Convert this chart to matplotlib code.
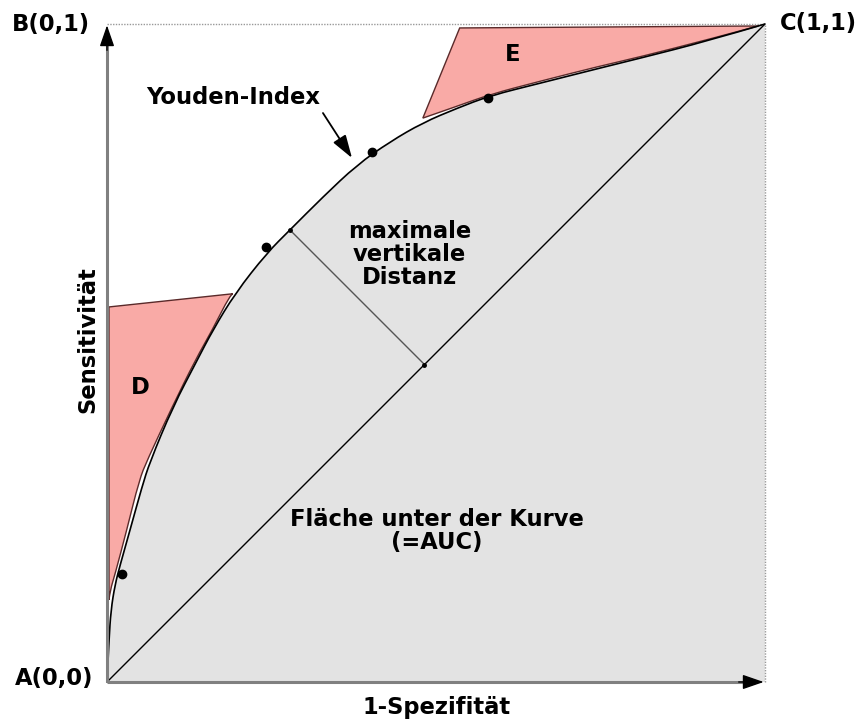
import numpy as np
import matplotlib.pyplot as plt
from matplotlib.path import Path
from matplotlib.patches import PathPatch

# ROC-Kurve (1-Spezifität, Sensitivität)
roc_x = [0, 0.003, 0.006, 0.012, 0.020, 0.035, 0.053, 0.065, 0.100, 0.137, 0.161, 0.195,
         0.243, 0.278, 0.328, 0.380, 0.430, 0.480, 0.532, 0.582, 0.658, 0.749, 0.810, 0.912, 1]
roc_y = [0, 0.064, 0.109, 0.147, 0.178, 0.231, 0.296, 0.334, 0.418, 0.489, 0.535, 0.591,
         0.652, 0.687, 0.737, 0.786, 0.821, 0.850, 0.872, 0.891, 0.910, 0.933, 0.948, 0.974, 1]
max_idx = 13  # Punkt mit maximalem Abstand zur Diagonale

# Messpunkte
pts_x = [0.023, 0.242, 0.403, 0.579]
pts_y = [0.164, 0.661, 0.805, 0.888]

# Fläche D (links oben an der Kurve)
d_corner = (0.003, 0.570)
d_x = [0.191, 0.187, 0.160, 0.134, 0.099, 0.061, 0.049, 0.030, 0.012, 0.005, 0.003]
d_y = [0.590, 0.588, 0.535, 0.489, 0.418, 0.337, 0.307, 0.231, 0.163, 0.140, 0.125]

# Fläche E (rechts oben an der Kurve)
e_corner = (0.536, 0.994)
e_x = [0.480, 0.532, 0.582, 0.658, 0.749, 0.810, 0.912, 0.990]
e_y = [0.857, 0.875, 0.893, 0.913, 0.936, 0.950, 0.976, 0.997]


def smooth(xs, ys):
    # quadratische Bezier-Segmente über die Stützpunkte
    verts, codes = [], []
    for i in range(1, len(xs) - 1):
        verts += [(xs[i], ys[i]), ((xs[i] + xs[i + 1]) / 2, (ys[i] + ys[i + 1]) / 2)]
        codes += [Path.CURVE3, Path.CURVE3]
    if verts:
        verts[-1] = (xs[-1], ys[-1])
    else:
        verts, codes = [(xs[-1], ys[-1])], [Path.LINETO]
    return verts, codes


fig = plt.figure(figsize=(8.62, 7.19), dpi=100)
ax = fig.add_axes([0, 0, 1, 1])
ax.set_xlim(-107 / 658, 755 / 658)
ax.set_ylim(-37 / 658, 682 / 658)
ax.axis('off')

cv, cc = smooth(roc_x, roc_y)
curve_verts = [(roc_x[0], roc_y[0])] + cv
curve_codes = [Path.MOVETO] + cc

# Fläche unter der Kurve
area = Path(curve_verts + [(1, 0), (0, 0), (0, 0)],
            curve_codes + [Path.LINETO, Path.LINETO, Path.CLOSEPOLY])
ax.add_patch(PathPatch(area, fc='#e3e3e3', lw=0, zorder=1))

pink = '#f9aaa6'
for corner, xs, ys in [(d_corner, d_x, d_y), (e_corner, e_x, e_y)]:
    sv, sc = smooth(xs, ys)
    p = Path([corner, (xs[0], ys[0])] + sv + [corner],
             [Path.MOVETO, Path.LINETO] + sc + [Path.CLOSEPOLY])
    ax.add_patch(PathPatch(p, fc=pink, ec='#5a2a2a', lw=1, zorder=2))

# gepunktete Begrenzung oben und rechts
ax.plot([0, 1], [1, 1], color='#999999', lw=1, ls=(0, (1, 1)), zorder=3)
ax.plot([1, 1], [0, 1], color='#999999', lw=1, ls=(0, (1, 1)), zorder=3)

# Diagonale und Kurve
ax.plot([0, 1], [0, 1], color='black', lw=1, zorder=4)
ax.add_patch(PathPatch(Path(curve_verts, curve_codes), fc='none', ec='black', lw=1.2, zorder=4))

# maximaler Abstand zur Diagonale
mx, my = roc_x[max_idx], roc_y[max_idx]
foot = (mx + my) / 2
ax.plot([mx, foot], [my, foot], color='#555555', lw=1, zorder=4)
ax.plot([mx, foot], [my, foot], 'o', color='black', ms=2.5, zorder=5)

ax.plot(pts_x, pts_y, 'o', color='black', ms=6, zorder=5)

# Achsen mit Pfeilspitzen
ax.plot([0, 0.985], [0, 0], color='#808080', lw=2.2, zorder=6, solid_capstyle='butt')
ax.plot([0, 0], [0, 0.985], color='#808080', lw=2.2, zorder=6, solid_capstyle='butt')
head = dict(arrowstyle='-|>,head_length=1.3,head_width=0.45', color='black', lw=1,
            shrinkA=0, shrinkB=0)
ax.annotate('', xy=(0.998, 0), xytext=(0.96, 0), arrowprops=head, zorder=7)
ax.annotate('', xy=(0, 0.998), xytext=(0, 0.96), arrowprops=head, zorder=7)

# Pfeil zum Youden-Index
ax.annotate('', xy=(0.3723, 0.7964), xytext=(0.3282, 0.8647), zorder=7,
            arrowprops=dict(arrowstyle='-|>,head_length=1.4,head_width=0.45', color='black',
                            lw=1.3, shrinkA=0, shrinkB=0))

txt = dict(fontsize=16.3, fontweight='bold', color='black', zorder=8)
ax.text(-0.026, 0.9985, 'B(0,1)', ha='right', va='center', **txt)
ax.text(1.023, 1.0015, 'C(1,1)', ha='left', va='center', **txt)
ax.text(-0.021, 0.006, 'A(0,0)', ha='right', va='center', **txt)
ax.text(0.5015, -0.038, '1-Spezifität', ha='center', va='center', **txt)
ax.text(-0.029, 0.52, 'Sensitivität', ha='center', va='center', rotation=90, **txt)
ax.text(0.1915, 0.889, 'Youden-Index', ha='center', va='center', **txt)
ax.text(0.050, 0.448, 'D', ha='center', va='center', **txt)
ax.text(0.617, 0.953, 'E', ha='center', va='center', **txt)
ax.text(0.460, 0.650, 'maximale\nvertikale\nDistanz', ha='center', va='center',
        multialignment='center', linespacing=1.0, **txt)
ax.text(0.5015, 0.2295, 'Fläche unter der Kurve\n(=AUC)', ha='center', va='center',
        multialignment='center', linespacing=1.05, **txt)

fig.savefig('out.png', dpi=100)
